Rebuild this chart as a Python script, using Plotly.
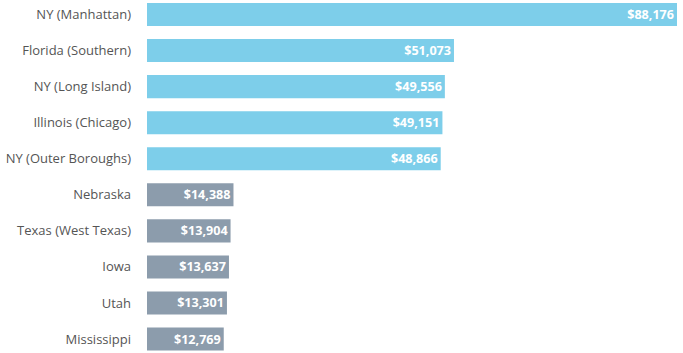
import plotly.graph_objects as go

categories = ["NY (Manhattan)", "Florida (Southern)", "NY (Long Island)", "Illinois (Chicago)",
              "NY (Outer Boroughs)", "Nebraska", "Texas (West Texas)", "Iowa", "Utah", "Mississippi"]
values = [88176, 51073, 49556, 49151, 48866, 14388, 13904, 13637, 13301, 12769]
groups = ["high"] * 5 + ["low"] * 5

color_map = {"high": "#7dceea", "low": "#8c9cac"}
colors = [color_map[g] for g in groups]
labels = [f"${v:,}" for v in values]

fig = go.Figure(go.Bar(
    x=values, y=categories, orientation="h",
    marker=dict(color=colors, line=dict(width=0)),
    text=labels, textposition="inside", insidetextanchor="end",
    textfont=dict(family="Open Sans", size=12.6, color="white", weight="bold"),
    cliponaxis=False, hoverinfo="skip",
))

fig.update_layout(
    width=683, height=353,
    margin=dict(l=147, r=6, t=0, b=0),
    paper_bgcolor="white", plot_bgcolor="white",
    bargap=0.36,
    showlegend=False,
    font=dict(family="Open Sans", size=12, color="#555555"),
    xaxis=dict(range=[0, 88176], visible=False, showgrid=False, zeroline=False),
    yaxis=dict(categoryorder="array", categoryarray=categories,
               range=[9.387, -0.402], showgrid=False, zeroline=False,
               ticks="", ticklabelstandoff=15,
               tickfont=dict(family="Open Sans", size=13, color="#555555")),
)

fig.write_html("out.html")
